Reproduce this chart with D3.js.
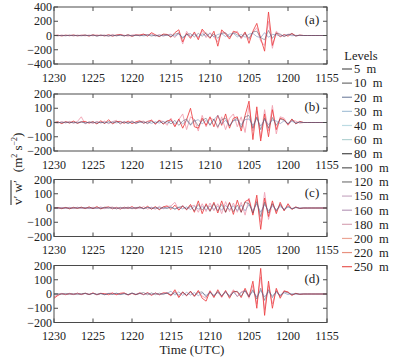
<!DOCTYPE html>
<html>
<head>
<meta charset="utf-8">
<script src="https://cdn.jsdelivr.net/npm/d3@7"></script>
<style>
  body { margin: 0; background: #fff; }
</style>
</head>
<body>
<div id="chart"></div>
<script>
// x ticks: minutes after 12:30, shown as HHMM
const tickMinutes = [0, 5, 10, 15, 20, 25, 30, 35];
const tickLabels = ["1230", "1225", "1220", "1215", "1210", "1205", "1200", "1155"];
const panelNames = ["(a)", "(b)", "(c)", "(d)"];
const yTicksA = [-400, -200, 0, 200, 400];
const yTicksB = [-200, -100, 0, 100, 200];

const levels = ["5 m", "10 m", "20 m", "30 m", "40 m", "60 m", "80 m", "100 m", "120 m",
    "150 m", "160 m", "180 m", "200 m", "220 m", "250 m"];
const levelColors = ["#555555", "#6e6e6e", "#7d8aa6", "#a9c3d9", "#bcdbe3", "#b4d3d3", "#484848",
    "#5a5a5a", "#7a7a7a", "#c9abc4", "#b99cbb", "#d8a7b7", "#eba595", "#e8917f", "#e85a55"];

// values every 0.5 min from 1230
const a250 = [0, 4, -6, 5, -3, 8, -5, 3, 6, -8, 10, -4, 5, -6, 12, -10, 8, 15, -5, 10, -12, 6, 8, 20, -10, 40, 10, -15, 20, 15,
    -25, 40, 80, -90, 30, -40, 50, -60, 90, 20, -40, 60, -150, 80, 20, -50, 60, 40, -30, 50, -110, 60, 170, -40, -220, 330, -140, 40, -20, 15,
    -10, 30, -5, 5, 0, 0, 0, 0, 0, 0, 0];
const a160 = [3, -4, 6, -2, 5, -7, 4, 2, -5, 8, -6, 10, -3, 7, -8, 15, -6, 10, 5, -10, 8, 12, -6, 15, 8, 25, -10, 12, -8, 10,
    20, -30, 50, -120, 60, -20, 30, -40, 70, -30, 40, -20, -90, 50, 40, -30, 30, 60, -50, 30, -60, 40, 110, -80, -140, 200, -180, 60, 10, -15,
    20, 10, -5, 3, 0, 0, 0, 0, 0, 0, 0];
const a100 = [0, -3, 2, -4, 5, -2, 3, -5, 4, -3, 6, -8, 4, 2, -10, 6, -4, 3, -6, 8, -5, 4, -3, 6, 10, -8, 5, -12, 10, 8,
    -15, 20, 30, -40, 15, 25, -20, 30, -10, 40, -30, 20, -40, 30, 35, -20, 40, 10, -25, 30, -40, 50, 60, -30, -60, 70, -40, 30, 20, -15,
    10, 25, -8, 4, 0, 0, 0, 0, 0, 0, 0];
const a20 = [0, 2, -3, 3, -2, 4, -4, 2, 3, -2, 4, -5, 3, -3, 5, -4, 2, 6, -3, 4, -5, 3, 4, -6, 5, 8, -4, 6, -5, 4,
    10, -8, 20, -25, 12, -10, 18, -15, 25, -10, 30, -20, 15, 25, -15, 20, 30, -20, 15, -25, 20, 30, -15, -30, 40, -25, 15, 10, -8, 5,
    12, -4, 2, 0, 0, 0, 0, 0, 0, 0, 0];

const b250 = [0, 5, -8, 6, -4, 10, -6, 4, 8, -5, 6, -10, 12, -8, 20, -10, 6, 8, -6, 10, -8, 5, 12, -6, 8, 15, -10, 18, -12, 10,
    20, -30, 25, -40, 20, 100, -30, -40, 30, -20, 40, -30, 50, -20, 60, -40, 30, 40, -60, 50, 150, -120, 110, -130, 60, -100, 90, -50, 30, 20,
    -15, 25, -10, 8, 0, 0, 0, 0, 0, 0, 0];
const b180 = [0, -4, 6, -3, 8, -5, 7, 40, -10, 5, -6, 8, -4, 10, -8, 6, 15, -12, 8, -5, 12, -8, 6, 10, -10, 20, -15, 12, 8, -20,
    30, -25, 20, 60, -50, 40, 20, -60, 50, -30, 30, 20, -40, 40, -50, 30, 60, -30, 40, -70, 120, -60, 80, -110, 90, -60, 120, -80, 40, 30,
    -20, 15, 10, -5, 0, 0, 0, 0, 0, 0, 0];
const b100 = [0, 2, -3, 4, -2, 3, -4, 5, -3, 2, 4, -5, 3, -4, 6, -3, 8, -6, 4, -5, 6, -4, 3, 5, -6, 8, -5, 10, -8, 12,
    -10, 15, -20, 10, 25, -15, 20, -25, 15, 30, -20, 25, -30, 20, 30, -25, 15, 30, -35, 40, 50, -40, 40, -50, 30, -40, 35, -20, 25, 15,
    -10, 20, -5, 3, 0, 0, 0, 0, 0, 0, 0];
const b20 = [0, -2, 3, -2, 4, -3, 2, 3, -4, 2, -3, 4, -2, 3, -4, 5, -3, 4, 2, -5, 3, -4, 5, -3, 4, -6, 5, -4, 8, -6,
    10, -8, 12, -10, 15, -20, 10, 20, -10, 15, -15, 20, 50, -10, 15, -20, 12, 18, -15, 20, 25, -20, 30, -25, 20, -15, 18, 10, -8, 12,
    -6, 8, -3, 2, 0, 0, 0, 0, 0, 0, 0];

const c250 = [0, 3, -5, 4, -6, 5, -3, 6, -4, 8, -5, 10, -6, 4, 8, -6, 5, -8, 6, -4, 10, -6, 8, -5, 12, -8, 10, -12, 8, 15,
    -10, 20, -15, 12, -10, 25, -30, 50, -40, 30, -20, 40, -35, 50, -30, 40, -45, 55, -30, 45, 60, -50, 90, -150, 70, -60, 50, -40, 40, -20,
    30, -10, 8, -4, 0, 0, 0, 0, 0, 0, 0];
const c160 = [0, -3, 4, -2, 5, -4, 6, -3, 4, -5, 6, -4, 8, -5, 3, 7, -6, 4, -5, 8, -6, 5, -4, 10, -8, 6, -10, 12, -6, 10,
    15, 40, -12, 20, -15, 10, 20, -30, 30, -25, 35, -20, 30, -40, 45, -25, 35, -30, 40, -50, 70, -40, 60, -100, 110, -80, 30, -30, 25, -15,
    20, -8, 5, -2, 0, 0, 0, 0, 0, 0, 0];
const c100 = [0, 2, -3, 3, -4, 2, -2, 4, -3, 5, -4, 3, -5, 6, -3, 4, -6, 5, -3, 4, -5, 3, 6, -4, 5, -6, 4, -8, 6, -5,
    8, -10, 6, 12, -8, 15, -20, 25, -15, 20, -25, 30, -20, 25, -30, 35, -25, 20, -30, 40, 30, -35, 45, -60, 40, -35, 30, -20, 25, -15,
    12, -6, 4, -2, 0, 0, 0, 0, 0, 0, 0];
const c20 = [0, -2, 2, -3, 3, -2, 4, -2, 3, -4, 2, -3, 4, -2, 5, -3, 2, -4, 3, -2, 4, -3, 2, -5, 3, 4, -3, 5, -4, 3,
    6, -5, 4, -6, 8, -10, 12, -8, 10, -12, 15, -10, 12, -15, 18, -12, 15, -18, 20, -20, 25, -18, 30, -30, 25, -20, 15, -12, 10, -8,
    6, -3, 2, 0, 0, 0, 0, 0, 0, 0, 0];

const d250 = [-30, -10, 4, -5, 3, -4, 6, -3, 5, -4, 8, -6, 4, 3, -5, 6, -4, 5, 8, -6, 4, -5, 6, -4, 10, -8, 6, -5, 8, 5,
    -10, 30, -25, 15, -10, 20, -15, 25, -30, -50, 20, -25, 30, -20, 25, -30, 20, 15, -25, 40, -20, 90, -100, 180, -150, 90, -100, 40, -30, 20,
    15, -10, 5, -3, 0, 0, 0, 0, 0, 0, 0];
const d180 = [-20, -5, 3, -4, 5, -3, 4, -5, 6, -3, 5, -4, 6, -5, 4, 8, -6, 3, 5, -8, 6, -4, 10, -6, 5, -10, 8, -6, 5, 10,
    -15, 20, -20, 10, -15, 15, -20, 20, -15, -30, 25, -20, 15, -25, 20, -15, 30, -20, 15, 25, -30, 60, -70, 120, -110, 60, -70, 30, -20, 25,
    10, -5, 3, -2, 0, 0, 0, 0, 0, 0, 0];
const d100 = [0, 2, -3, 4, -2, 3, -4, 2, 5, -3, 4, -2, 3, -5, 4, -3, 6, -4, 3, -5, 8, -4, 5, 10, -6, 8, -5, 6, -4, 8,
    -6, 10, -8, 12, -10, 15, -12, 10, 15, -20, 12, -15, 18, -12, 15, -20, 12, 20, -15, 25, -20, 30, -35, 40, -45, 30, -25, 20, -15, 15,
    8, -5, 3, -1, 0, 0, 0, 0, 0, 0, 0];
const d20 = [0, -2, 3, -2, 2, -3, 4, -2, 3, -2, 4, -3, 2, -4, 3, -2, 4, -3, 2, -3, 5, -2, 3, -4, 6, -3, 5, -4, 3, 5,
    20, -8, 15, -10, 12, -8, 10, -12, 8, -10, 12, -8, 10, -12, 15, -10, 12, -15, 10, 20, -12, 18, -20, 25, -20, 15, -12, 10, -6, 8,
    -4, 3, -2, 0, 0, 0, 0, 0, 0, 0, 0];

const panels = [
    {label: panelNames[0], ticks: yTicksA, lines: [["160 m", a160], ["250 m", a250], ["20 m", a20], ["100 m", a100]]},
    {label: panelNames[1], ticks: yTicksB, lines: [["180 m", b180], ["250 m", b250], ["20 m", b20], ["100 m", b100]]},
    {label: panelNames[2], ticks: yTicksB, lines: [["160 m", c160], ["250 m", c250], ["20 m", c20], ["100 m", c100]]},
    {label: panelNames[3], ticks: yTicksB, lines: [["180 m", d180], ["250 m", d250], ["20 m", d20], ["100 m", d100]]}
];

// plot colours (stronger than the legend swatches)
const lineColor = {"250 m": "#ec3f42", "180 m": "#f2a1b0", "160 m": "#f0a4b8", "100 m": "#3b3b52", "20 m": "#7384b4"};
const lineOpacity = {"250 m": 0.85, "180 m": 0.9, "160 m": 0.9, "100 m": 0.55, "20 m": 0.7};
const lineWidth = {"250 m": 1, "180 m": 1, "160 m": 1, "100 m": 0.8, "20 m": 0.8};

const FONT = "'Liberation Serif'";
const W = 412, H = 357;
const svg = d3.select("#chart").append("svg")
    .attr("width", W).attr("height", H)
    .style("display", "block");

// every text node gets the serif face set directly
function addText(parent, size) {
    return parent.append("text")
        .style("font-family", FONT)
        .attr("font-size", size)
        .attr("fill", "#222");
}

const x = d3.scaleLinear().domain([0, 35]).range([54, 327]);
const panelTop = [7, 94, 179.5, 265.5];
const panelH = 57;
const fs = 12;

panels.forEach((p, k) => {
    let top = panelTop[k];
    let ymax = d3.max(p.ticks);
    let y = d3.scaleLinear().domain([-ymax, ymax]).range([top + panelH, top]);
    let g = svg.append("g");

    let clipId = "clip" + k;
    g.append("clipPath").attr("id", clipId)
        .append("rect").attr("x", x(0)).attr("y", top).attr("width", x(35) - x(0)).attr("height", panelH);

    let line = d3.line()
        .x((d, i) => x(i * 0.5))
        .y(d => y(d));

    let lines = g.append("g").attr("clip-path", `url(#${clipId})`);
    p.lines.forEach(([lev, vals]) => {
        lines.append("path")
            .attr("d", line(vals))
            .attr("fill", "none")
            .attr("stroke", lineColor[lev])
            .attr("stroke-opacity", lineOpacity[lev])
            .attr("stroke-width", lineWidth[lev]);
    });

    // frame
    g.append("rect")
        .attr("x", x(0)).attr("y", top)
        .attr("width", x(35) - x(0)).attr("height", panelH)
        .attr("fill", "none").attr("stroke", "#4a4a4a").attr("stroke-width", 1);

    // inward ticks on all four sides
    tickMinutes.forEach(t => {
        g.append("line").attr("x1", x(t)).attr("x2", x(t)).attr("y1", top + panelH).attr("y2", top + panelH - 4).attr("stroke", "#4a4a4a");
        g.append("line").attr("x1", x(t)).attr("x2", x(t)).attr("y1", top).attr("y2", top + 4).attr("stroke", "#4a4a4a");
    });
    p.ticks.forEach(v => {
        g.append("line").attr("x1", x(0)).attr("x2", x(0) + 4).attr("y1", y(v)).attr("y2", y(v)).attr("stroke", "#4a4a4a");
        g.append("line").attr("x1", x(35)).attr("x2", x(35) - 4).attr("y1", y(v)).attr("y2", y(v)).attr("stroke", "#4a4a4a");
    });

    p.ticks.forEach(v => {
        addText(g, fs)
            .attr("x", x(0) - 2)
            .attr("y", y(v) + 4.2)
            .attr("text-anchor", "end")
            .text(v < 0 ? "\u2212" + Math.abs(v) : v);
    });

    tickMinutes.forEach((t, i) => {
        addText(g, fs)
            .attr("x", x(t))
            .attr("y", top + panelH + 17.5)
            .attr("text-anchor", "middle")
            .text(tickLabels[i]);
    });

    addText(g, 13)
        .attr("x", 312).attr("y", top + 17)
        .attr("text-anchor", "middle")
        .text(p.label);
});

// x title
addText(svg, 13)
    .attr("x", 192).attr("y", 354)
    .attr("text-anchor", "middle")
    .text("Time (UTC)");

// y title: overlined v'w' then units
let yt = svg.append("g").attr("transform", "translate(22,163) rotate(-90)");
let vw = addText(yt, 13)
    .attr("x", -42).attr("y", 0)
    .text("v\u2032 w\u2032");
let vwLen = vw.node().getComputedTextLength();
yt.append("line")
    .attr("x1", -42).attr("x2", -42 + vwLen)
    .attr("y1", -11).attr("y2", -11)
    .attr("stroke", "#222").attr("stroke-width", 1);
let units = addText(yt, 13)
    .attr("x", -42 + vwLen + 8).attr("y", 0);
units.append("tspan").text("(m");
units.append("tspan").attr("dy", -5).attr("font-size", 8).text("2");
units.append("tspan").attr("dy", 5).text(" s");
units.append("tspan").attr("dy", -5).attr("font-size", 8).text("\u22122");
units.append("tspan").attr("dy", 5).text(")");

// legend
let legend = svg.append("g");
addText(legend, 12.5)
    .attr("x", 361).attr("y", 60)
    .attr("text-anchor", "middle")
    .text("Levels");

levels.forEach((lev, i) => {
    let ly = 69 + i * 14.12;
    legend.append("line")
        .attr("x1", 342).attr("x2", 352)
        .attr("y1", ly).attr("y2", ly)
        .attr("stroke", levelColors[i]).attr("stroke-width", 1.2);
    addText(legend, 12.5)
        .attr("x", 354).attr("y", ly + 4.3)
        .attr("xml:space", "preserve")
        .text(lev.replace(" ", "  "));
});
</script>
</body>
</html>
